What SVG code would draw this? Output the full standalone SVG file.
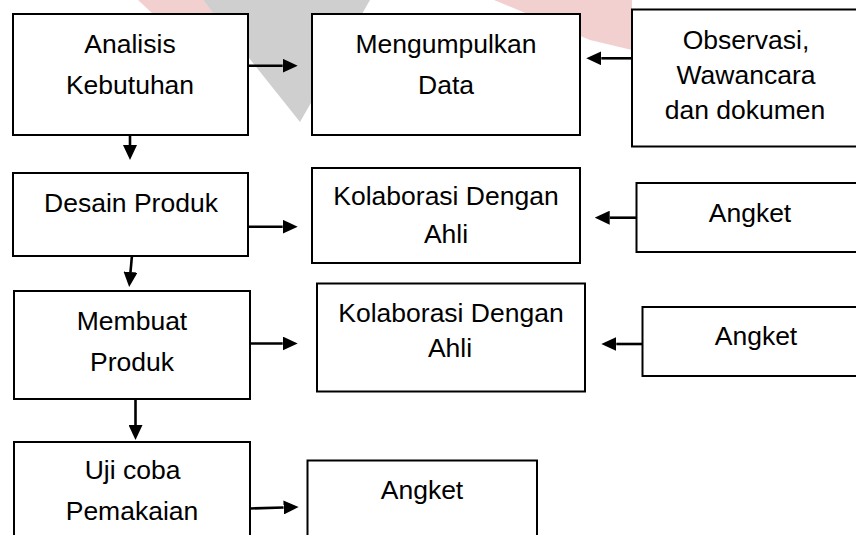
<svg xmlns="http://www.w3.org/2000/svg" width="856" height="535" viewBox="0 0 856 535">
  <style>
    .box { fill: #ffffff; stroke: #000000; stroke-width: 2; }
    .lbl { font-family: "Liberation Sans", Arial, sans-serif; font-size: 26.5px; fill: #000000; text-anchor: middle; }
    .conn { stroke: #000000; stroke-width: 2.6; fill: none; marker-end: url(#arrow); }
    .wm-grey { fill: #cfcfcf; }
    .wm-pink { fill: #f2d0d0; }
  </style>
  <defs>
    <marker id="arrow" markerUnits="userSpaceOnUse" viewBox="0 0 15 14" refX="0" refY="7" markerWidth="15" markerHeight="14" orient="auto">
      <path d="M0,0 L15,7 L0,14 Z" fill="#000000"/>
    </marker>
  </defs>
  <rect x="0" y="0" width="856" height="535" fill="#ffffff"/>
  <g id="watermark">
    <polygon class="wm-pink" points="138,0 203,0 222,22 168,28"/>
    <polygon class="wm-grey" points="203,0 370,0 300,122"/>
    <polygon class="wm-pink" points="494,0 632,0 632,50 590,40"/>
  </g>
  <g id="connectors">
    <path class="conn" d="M248,65.7 H282.7"/>
    <path class="conn" d="M632,58.3 H601.3"/>
    <path class="conn" d="M130,135 V145"/>
    <path class="conn" d="M248,226.7 H282.7"/>
    <path class="conn" d="M636,217.7 H609.7"/>
    <path class="conn" d="M133,244 L130.5,272"/>
    <path class="conn" d="M248,343.5 H282.7"/>
    <path class="conn" d="M642,344 H616.3"/>
    <path class="conn" d="M135.5,399 V425"/>
    <path class="conn" d="M250,508.5 L283.6,507.5"/>
  </g>
  <g id="analisis">
    <rect class="box" x="13" y="14" width="235" height="121"/>
    <text class="lbl" x="130" y="53">Analisis</text>
    <text class="lbl" x="130" y="94">Kebutuhan</text>
  </g>
  <g id="mengumpulkan">
    <rect class="box" x="312" y="14" width="268" height="121"/>
    <text class="lbl" x="446" y="53">Mengumpulkan</text>
    <text class="lbl" x="446" y="94">Data</text>
  </g>
  <g id="observasi">
    <rect class="box" x="632" y="9.5" width="240" height="137"/>
    <text class="lbl" x="746" y="48.5">Observasi,</text>
    <text class="lbl" x="746" y="83.5">Wawancara</text>
    <text class="lbl" x="745" y="118.5">dan dokumen</text>
  </g>
  <g id="desain">
    <rect class="box" x="13" y="173" width="235" height="83"/>
    <text class="lbl" x="131" y="211.5">Desain Produk</text>
  </g>
  <g id="kolaborasi1">
    <rect class="box" x="312" y="168" width="268" height="95"/>
    <text class="lbl" x="446" y="205">Kolaborasi Dengan</text>
    <text class="lbl" x="446" y="243">Ahli</text>
  </g>
  <g id="angket1">
    <rect class="box" x="636.5" y="183" width="236" height="69"/>
    <text class="lbl" x="750" y="221.5">Angket</text>
  </g>
  <g id="membuat">
    <rect class="box" x="14" y="291" width="236" height="108"/>
    <text class="lbl" x="132" y="330">Membuat</text>
    <text class="lbl" x="132" y="371">Produk</text>
  </g>
  <g id="kolaborasi2">
    <rect class="box" x="317" y="283.5" width="268" height="108"/>
    <text class="lbl" x="451" y="321.5">Kolaborasi Dengan</text>
    <text class="lbl" x="450" y="356.5">Ahli</text>
  </g>
  <g id="angket2">
    <rect class="box" x="642.5" y="307" width="230" height="69"/>
    <text class="lbl" x="756" y="345">Angket</text>
  </g>
  <g id="ujicoba">
    <rect class="box" x="14" y="442" width="236" height="110"/>
    <text class="lbl" x="132.5" y="479">Uji coba</text>
    <text class="lbl" x="132" y="520">Pemakaian</text>
  </g>
  <g id="angket3">
    <rect class="box" x="307.5" y="460.5" width="229.5" height="90"/>
    <text class="lbl" x="422" y="499">Angket</text>
  </g>
</svg>
